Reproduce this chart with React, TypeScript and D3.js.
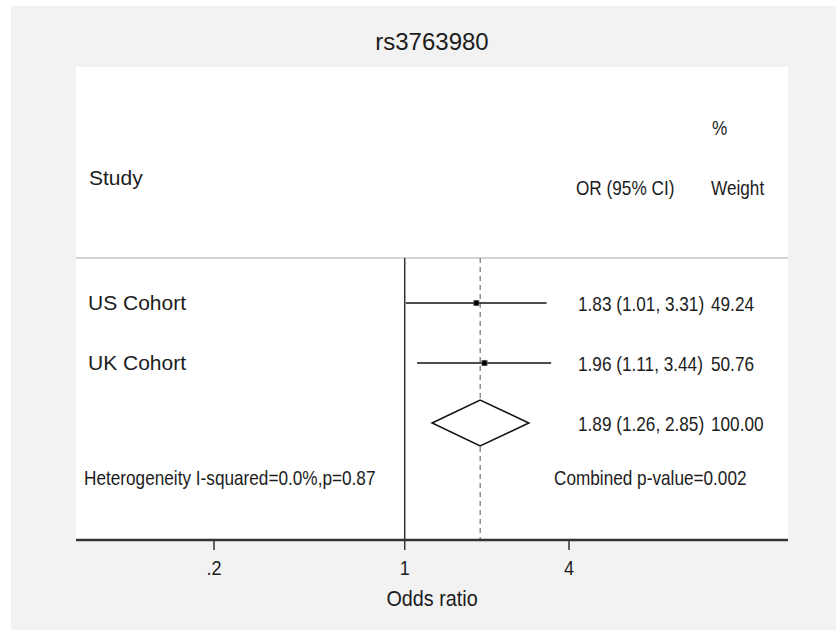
import * as d3 from "d3";
import { useEffect, useRef } from "react";

// study rows
const studies = ["US Cohort", "UK Cohort"];
const oddsRatios = [1.83, 1.96];
const ciLower = [1.01, 1.11];
const ciUpper = [3.31, 3.44];
const weights = [49.24, 50.76];

// pooled estimate: OR, lower, upper
const pooledOR = [1.89, 1.26, 2.85];
const pooledWeight = 100.0;

const rowKeys = ["US Cohort", "UK Cohort", "Overall", "Stats"];
const xTicks = [0.2, 1, 4];
const xTickLabels = [".2", "1", "4"];

const titleText = "rs3763980";
const hetText = "Heterogeneity I-squared=0.0%,p=0.87";
const combinedText = "Combined p-value=0.002";

const W = 836;
const H = 630;
const FONT = "'Liberation Sans', Arial, Helvetica, sans-serif";
const NARROW = 0.86;

export default function App() {
  const ref = useRef<SVGSVGElement>(null);

  useEffect(() => {
    const svg = d3.select(ref.current);
    svg.selectAll("*").remove();

    const panel = { left: 76, right: 788, top: 67, bottom: 540 };
    const dataTop = 258;

    const x = d3.scaleLog().domain([0.2, 4]).range([214, 569]);
    const y = d3.scalePoint<string>().domain(rowKeys).range([303, 483]);
    const f2 = d3.format(".2f");

    // background + plot panel
    svg.append("rect").attr("x", 11).attr("y", 6).attr("width", W - 11).attr("height", H - 6).attr("fill", "#f2f2f2");
    svg.append("rect").attr("x", panel.left).attr("y", panel.top)
      .attr("width", panel.right - panel.left).attr("height", panel.bottom - panel.top).attr("fill", "#fff");

    function txt(px: number, py: number, s: string, size: number, anchor = "start", sx = 1) {
      svg.append("text")
        .attr("transform", "translate(" + px + "," + py + ") scale(" + sx + ",1)")
        .attr("text-anchor", anchor)
        .attr("font-family", FONT)
        .attr("font-size", size)
        .attr("fill", "#1c1c1c")
        .text(s);
    }

    // title
    txt((panel.left + panel.right) / 2, 50, titleText, 24, "middle");

    // header
    txt(89, 185, "Study", 21);
    txt(712, 135, "%", 20, "start", NARROW);
    txt(576, 195, "OR (95% CI)", 20, "start", NARROW);
    txt(711, 195, "Weight", 20, "start", NARROW);

    svg.append("line").attr("x1", panel.left).attr("x2", panel.right)
      .attr("y1", dataTop).attr("y2", dataTop).attr("stroke", "#c4c4c4").attr("stroke-width", 1.5);

    // no-effect line and pooled line
    svg.append("line").attr("x1", x(1)).attr("x2", x(1)).attr("y1", dataTop).attr("y2", panel.bottom)
      .attr("stroke", "#333").attr("stroke-width", 1.5);
    svg.append("line").attr("x1", x(pooledOR[0])).attr("x2", x(pooledOR[0])).attr("y1", dataTop).attr("y2", panel.bottom)
      .attr("stroke", "#555").attr("stroke-width", 1).attr("stroke-dasharray", "5,4");

    // studies
    studies.forEach((s, i) => {
      const cy = y(s) as number;
      txt(88, cy + 7, s, 21);
      svg.append("line").attr("x1", x(ciLower[i])).attr("x2", x(ciUpper[i])).attr("y1", cy).attr("y2", cy)
        .attr("stroke", "#111").attr("stroke-width", 1.5);
      const bs = Math.sqrt(weights[i]) * 0.85;
      svg.append("rect").attr("x", x(oddsRatios[i]) - bs / 2).attr("y", cy - bs / 2)
        .attr("width", bs).attr("height", bs).attr("fill", "#666");
      svg.append("circle").attr("cx", x(oddsRatios[i])).attr("cy", cy).attr("r", 2.5).attr("fill", "#000");
      txt(578, cy + 8, f2(oddsRatios[i]) + " (" + f2(ciLower[i]) + ", " + f2(ciUpper[i]) + ")", 20, "start", NARROW);
      txt(711, cy + 8, f2(weights[i]), 20, "start", NARROW);
    });

    // pooled diamond
    const py = y("Overall") as number;
    const dh = 23;
    const diamond = [
      [x(pooledOR[1]), py], [x(pooledOR[0]), py - dh], [x(pooledOR[2]), py], [x(pooledOR[0]), py + dh],
    ] as [number, number][];
    svg.append("path").attr("d", d3.line()(diamond) + "Z").attr("fill", "#fff")
      .attr("stroke", "#111").attr("stroke-width", 1.5);
    txt(578, py + 8, f2(pooledOR[0]) + " (" + f2(pooledOR[1]) + ", " + f2(pooledOR[2]) + ")", 20, "start", NARROW);
    txt(711, py + 8, f2(pooledWeight), 20, "start", NARROW);

    const sy = y("Stats") as number;
    txt(84, sy + 2, hetText, 20, "start", NARROW);
    txt(554, sy + 2, combinedText, 20, "start", NARROW);

    // x axis
    const axis = svg.append("g").attr("transform", "translate(0," + panel.bottom + ")");
    axis.append("line").attr("x1", panel.left).attr("x2", panel.right).attr("stroke", "#333").attr("stroke-width", 2.5);
    axis.selectAll("line.tick").data(xTicks).enter().append("line").attr("class", "tick")
      .attr("x1", d => x(d)).attr("x2", d => x(d)).attr("y1", 0).attr("y2", 10)
      .attr("stroke", "#333").attr("stroke-width", 1.5);
    xTicks.forEach((t, i) => txt(x(t), panel.bottom + 35, xTickLabels[i], 21, "middle", NARROW));
    txt((panel.left + panel.right) / 2, panel.bottom + 66, "Odds ratio", 22, "middle", 0.9);
  }, []);

  return (
    <svg ref={ref} width={W} height={H} style={{ position: "absolute", left: 0, top: 0, background: "#fff" }} />
  );
}
